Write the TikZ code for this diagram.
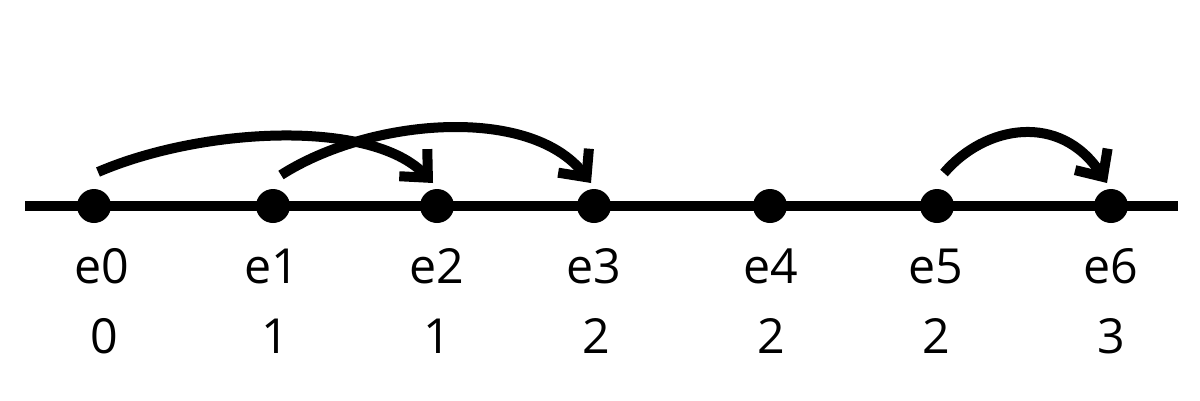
\documentclass[tikz,border=0pt]{standalone}
\usepackage{fontspec}
\setmainfont{Open Sans}
\usetikzlibrary{arrows.meta}
\begin{document}
\begin{tikzpicture}[x=0.02cm,y=-0.02cm,
  dot/.style={circle,fill=black,inner sep=0pt,minimum size=0.68cm},
  lbl/.style={anchor=base,inner sep=0pt,font=\fontsize{27.5}{33}\selectfont},
  axisline/.style={line width=0.2cm},
  jump/.style={line width=0.2cm,
    -{Straight Barb[length=0.42cm,width=0.78cm,line cap=butt,line join=miter]}}]
\useasboundingbox (0,0) rectangle (1200,400);
\coordinate (L) at (25,206);
\coordinate (R) at (1178,206);
\draw[axisline] (L) -- (R);
\foreach \i/\x in {0/94,1/273,2/437,3/594,4/770,5/937,6/1111}{
  \node[dot] (d\i) at (\x,206) {};
}
\foreach \i/\x/\v/\vx in {0/102/0/104,1/272/1/275,2/437/1/437,3/594/2/596,4/771/2/771,5/936/2/936,6/1111/3/1111}{
  \node[lbl] (e\i) at (\x,283) {e\i};
  \node[lbl] (n\i) at (\vx,353) {\v};
}
\coordinate (s0) at (98,172);
\coordinate (t2) at (433,183);
\coordinate (s1) at (281,175);
\coordinate (t3) at (591,183);
\coordinate (s5) at (944,173);
\coordinate (t6) at (1107,183);
\draw[jump] (s0) .. controls (200,128) and (370,118) .. (t2);
\draw[jump] (s1) .. controls (370,118) and (530,105) .. (t3);
\draw[jump] (s5) .. controls (985,125) and (1060,112) .. (t6);
\end{tikzpicture}
\end{document}
